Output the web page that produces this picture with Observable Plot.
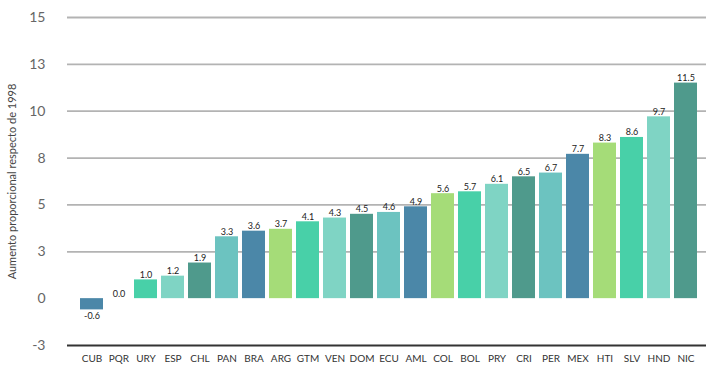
<!DOCTYPE html>
<html><head><meta charset="utf-8">
<script src="https://cdn.jsdelivr.net/npm/d3@7"></script>
<script src="https://cdn.jsdelivr.net/npm/@observablehq/plot@0.6"></script>
<style>
body{margin:0;background:#fff;}
#chart svg{font-family:Lato,"Open Sans",sans-serif;}
</style>
</head><body><div id="chart"></div>
<script>
const countries = ["CUB","PQR","URY","ESP","CHL","PAN","BRA","ARG","GTM","VEN","DOM","ECU","AML","COL","BOL","PRY","CRI","PER","MEX","HTI","SLV","HND","NIC"];
const values = [-0.6,0.0,1.0,1.2,1.9,3.3,3.6,3.7,4.1,4.3,4.5,4.6,4.9,5.6,5.7,6.1,6.5,6.7,7.7,8.3,8.6,9.7,11.5];
const palette = ["#4b87a8","#a5dc78","#48d0a8","#7fd4c4","#4f9a8c","#6cc3c0"];
const tickValues = [-2.5,0,2.5,5,7.5,10,12.5,15];
const tickLabels = ["-3","0","3","5","8","10","13","15"];
const gridValues = [2.5,5,7.5,10,12.5,15];
const yTitle = "Aumento proporcional respecto de 1998";

const data = countries.map((c,i)=>({country:c, value:values[i], color:palette[i%palette.length]}));
const pos = data.filter(d=>d.value>=0);
const neg = data.filter(d=>d.value<0);

const chart = Plot.plot({
  width:706, height:372,
  marginTop:17, marginBottom:27, marginLeft:67, marginRight:0,
  x:{domain:countries, padding:0.15, range:[75,701], label:null},
  y:{domain:[-2.5,15], label:null},
  marks:[
    Plot.ruleY(gridValues,{stroke:"#b3b3b3", strokeWidth:1.8}),
    Plot.barY(data,{x:"country", y:"value", fill:"color"}),
    Plot.ruleY([-2.5],{stroke:"#333", strokeWidth:2}),
    Plot.text(pos,{x:"country", y:"value", text:d=>d.value.toFixed(1), lineAnchor:"bottom", dy:-2, fontSize:9, fill:"#222"}),
    Plot.text(neg,{x:"country", y:"value", text:d=>d.value.toFixed(1), lineAnchor:"top", dy:3, fontSize:9, fill:"#222"}),
    Plot.axisX({tickSize:0, tickPadding:9, fontSize:10, fill:"#333", label:null}),
    Plot.axisY({ticks:tickValues, tickFormat:(d)=>tickLabels[tickValues.indexOf(d)], tickSize:0, tickPadding:22, fontSize:14, fill:"#666", label:null}),
    Plot.text([yTitle],{frameAnchor:"left", textAnchor:"middle", dx:-55, rotate:-90, fontSize:11, fill:"#444"})
  ]
});
document.getElementById("chart").appendChild(chart);
</script>
</body></html>
